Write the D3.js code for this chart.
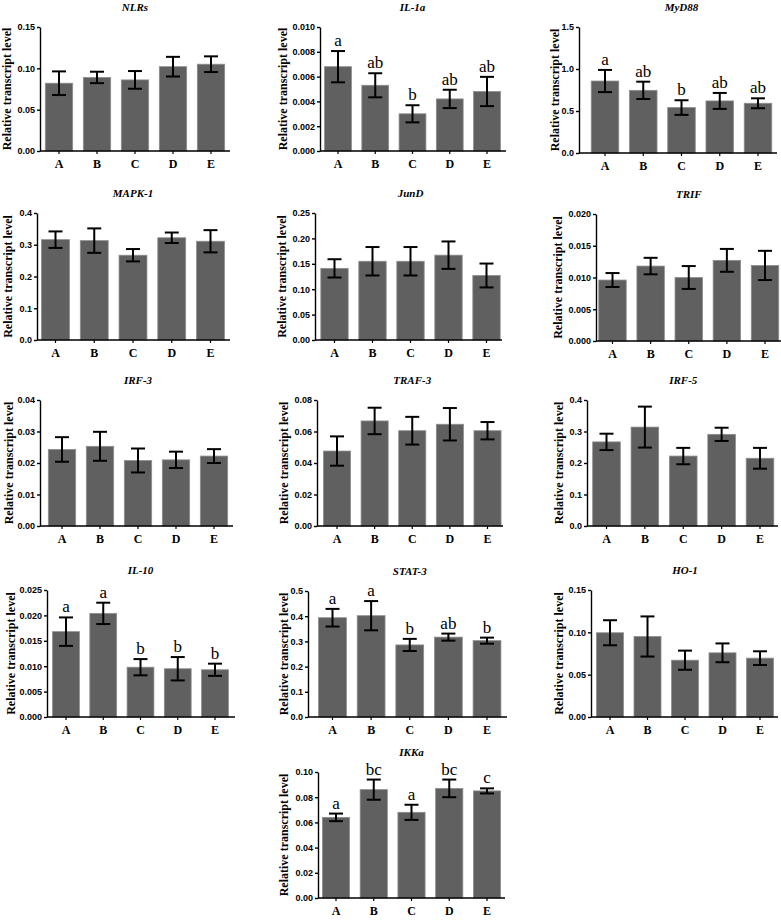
<!DOCTYPE html>
<html><head><meta charset="utf-8">
<script src="https://cdn.jsdelivr.net/npm/d3@7"></script>
<style>html,body{margin:0;padding:0;background:#fff;}svg{display:block;}</style>
</head><body>
<svg id="chart" width="781" height="920"></svg>
<script>
// ---- data ----
const groups = ["A", "B", "C", "D", "E"];
const genes = ["NLRs", "IL-1a", "MyD88", "MAPK-1", "JunD", "TRIF", "IRF-3", "TRAF-3", "IRF-5", "IL-10", "STAT-3", "HO-1", "IKKa"];
const yMax  = [0.15, 0.010, 1.5, 0.4, 0.25, 0.020, 0.04, 0.08, 0.4, 0.025, 0.5, 0.15, 0.10];
const yStep = [0.05, 0.002, 0.5, 0.1, 0.05, 0.005, 0.01, 0.02, 0.1, 0.005, 0.1, 0.05, 0.02];
const yDecimals = [2, 3, 1, 1, 2, 3, 2, 2, 1, 3, 1, 2, 2];
const means = [
  [0.082, 0.089, 0.086, 0.102, 0.105],
  [0.0068, 0.0053, 0.0030, 0.0042, 0.0048],
  [0.857, 0.746, 0.541, 0.620, 0.592],
  [0.316, 0.313, 0.267, 0.322, 0.311],
  [0.141, 0.155, 0.155, 0.167, 0.127],
  [0.0096, 0.0118, 0.0100, 0.0127, 0.0119],
  [0.0243, 0.0253, 0.0208, 0.0210, 0.0222],
  [0.0476, 0.0667, 0.0605, 0.0646, 0.0605],
  [0.267, 0.314, 0.222, 0.291, 0.215],
  [0.0168, 0.0204, 0.0098, 0.0095, 0.0093],
  [0.394, 0.402, 0.286, 0.317, 0.303],
  [0.0995, 0.0951, 0.0671, 0.0758, 0.0695],
  [0.064, 0.086, 0.068, 0.087, 0.085]
];
const sems = [
  [0.0143, 0.0069, 0.0107, 0.0119, 0.0095],
  [0.00126, 0.00097, 0.00069, 0.00074, 0.00118],
  [0.132, 0.103, 0.087, 0.095, 0.059],
  [0.026, 0.0385, 0.0195, 0.0165, 0.035],
  [0.018, 0.028, 0.028, 0.027, 0.0235],
  [0.0011, 0.0013, 0.0018, 0.0018, 0.0023],
  [0.0039, 0.0046, 0.0038, 0.0026, 0.0022],
  [0.0093, 0.0084, 0.0088, 0.0103, 0.0055],
  [0.026, 0.065, 0.026, 0.021, 0.033],
  [0.0028, 0.0021, 0.0016, 0.0023, 0.0012],
  [0.035, 0.058, 0.024, 0.014, 0.012],
  [0.0148, 0.0237, 0.0113, 0.0111, 0.0081],
  [0.003, 0.008, 0.006, 0.007, 0.002]
];
const sigLetters = [
  null,
  ["a", "ab", "b", "ab", "ab"],
  ["a", "ab", "b", "ab", "ab"],
  null, null, null, null, null, null,
  ["a", "a", "b", "b", "b"],
  ["a", "a", "b", "ab", "b"],
  null,
  ["a", "bc", "a", "bc", "c"]
];
const yTitle = "Relative transcript level";

// ---- layout (pixel geometry per panel): yAxisX, firstCenter, lastCenter, xEnd, top, bottom, yLabelX ----
const layout = [
  [40, 59, 211, 230, 27, 151, 7],
  [320, 338, 487, 506, 27, 151, 283],
  [579, 605, 758, 777, 27, 153, 555],
  [37, 55.5, 210.5, 230, 213, 340, 8],
  [315, 334.5, 486.5, 502, 213, 340, 282],
  [596, 612.5, 765, 781, 214, 341, 558],
  [40, 62, 214, 233, 400, 526, 9],
  [317, 337, 487.5, 503, 400, 526, 284],
  [587, 606.5, 760, 778, 400, 526, 559],
  [47, 66, 215, 235, 590, 717, 11],
  [308, 332.5, 487, 507, 591, 717, 284],
  [591, 610, 760, 778, 590, 717, 559],
  [318, 336, 487, 505, 772, 898, 284]
];

const serif = "'Liberation Serif','Times New Roman',serif";
const sans = "'Liberation Sans',Arial,sans-serif";
const svg = d3.select("#chart");

genes.forEach((g, i) => {
  const [ax, c0, c1, xEnd, top, bottom, ylx] = layout[i];
  const step = (c1 - c0) / (groups.length - 1);
  const x = d3.scaleBand().domain(groups).range([c0 - step / 2, c1 + step / 2]).paddingInner(0.28).paddingOuter(0.14);
  const y = d3.scaleLinear().domain([0, yMax[i]]).range([bottom, top]);
  const ticks = d3.range(0, yMax[i] + yStep[i] / 2, yStep[i]);
  const fmt = d3.format("." + yDecimals[i] + "f");
  const G = svg.append("g");

  // bars
  G.selectAll("rect.bar").data(groups).join("rect")
    .attr("x", d => x(d)).attr("width", x.bandwidth())
    .attr("y", (d, k) => y(means[i][k]))
    .attr("height", (d, k) => y(0) - y(means[i][k]))
    .attr("fill", "#606060").attr("stroke", "#8e8e8e").attr("stroke-width", 0.8);

  // error bars
  const eb = G.selectAll("g.eb").data(groups).join("g");
  const cx = d => x(d) + x.bandwidth() / 2;
  eb.append("line").attr("x1", cx).attr("x2", cx)
    .attr("y1", (d, k) => y(means[i][k] + sems[i][k]))
    .attr("y2", (d, k) => y(means[i][k] - sems[i][k]));
  eb.append("line").attr("x1", d => cx(d) - 7).attr("x2", d => cx(d) + 7)
    .attr("y1", (d, k) => y(means[i][k] + sems[i][k]))
    .attr("y2", (d, k) => y(means[i][k] + sems[i][k]));
  eb.append("line").attr("x1", d => cx(d) - 7).attr("x2", d => cx(d) + 7)
    .attr("y1", (d, k) => y(means[i][k] - sems[i][k]))
    .attr("y2", (d, k) => y(means[i][k] - sems[i][k]));
  eb.selectAll("line").attr("stroke", "#000").attr("stroke-width", 2);

  // significance letters
  if (sigLetters[i]) {
    G.selectAll("text.sig").data(groups).join("text")
      .attr("x", cx)
      .attr("y", (d, k) => y(means[i][k] + sems[i][k]) - 5)
      .attr("text-anchor", "middle")
      .style("font-family", serif).style("font-size", "17px")
      .text((d, k) => sigLetters[i][k]);
  }

  // y axis
  const yAxis = G.append("g").attr("transform", `translate(${ax},0)`)
    .call(d3.axisLeft(y).tickValues(ticks).tickFormat(fmt).tickSize(3).tickSizeOuter(0).tickPadding(2));
  yAxis.select(".domain").attr("stroke-width", 1.4);
  yAxis.selectAll(".tick line").attr("stroke-width", 1.4);
  yAxis.selectAll("text").style("font-family", sans).style("font-weight", "bold").style("font-size", "9px").attr("fill", "#000");

  // x axis
  const xAxis = G.append("g").attr("transform", `translate(0,${bottom})`)
    .call(d3.axisBottom(x).tickSize(3).tickSizeOuter(0).tickPadding(5));
  xAxis.select(".domain").attr("d", `M${ax},0H${xEnd}`).attr("stroke-width", 1.4);
  xAxis.selectAll(".tick line").attr("stroke-width", 1.2);
  xAxis.selectAll("text").style("font-family", serif).style("font-weight", "bold").style("font-size", "12px").attr("fill", "#000");

  // y title
  G.append("text")
    .attr("transform", `translate(${ylx},${(top + bottom) / 2}) rotate(-90)`)
    .attr("text-anchor", "middle").attr("dominant-baseline", "central")
    .style("font-family", serif).style("font-weight", "bold").style("font-size", "12px")
    .text(yTitle);

  // panel title
  G.append("text")
    .attr("x", (c0 + c1) / 2).attr("y", top - 16)
    .attr("text-anchor", "middle")
    .style("font-family", serif).style("font-weight", "bold").style("font-style", "italic").style("font-size", "11px")
    .text(g);
});
</script>
</body></html>
